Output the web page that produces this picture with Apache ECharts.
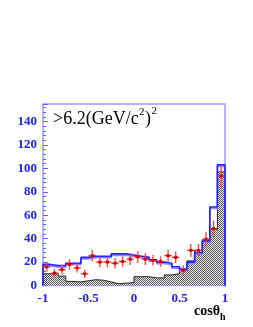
<!DOCTYPE html>
<html><head><meta charset="utf-8">
<script src="https://cdn.jsdelivr.net/npm/echarts@6/dist/echarts.min.js"></script>
<style>html,body{margin:0;padding:0;background:#fff}#c{width:253px;height:327px}</style>
</head><body><div id="c"></div>
<script>
// 24 bins in cos(theta_h) from -1 to 1
var nBins = 24, xMin = -1, xMax = 1;
var xTicks = [-1, -0.5, 0, 0.5, 1];
var yTicks = [0, 20, 40, 60, 80, 100, 120, 140];
// blue histogram (total)
var blueVals = [18, 17, 17, 19, 19, 24, 25, 25, 25, 27, 27, 26, 25, 24, 22, 20, 19, 16, 14, 20, 28, 38, 67, 103];
// hatched histogram (background)
var darkVals = [10, 10.5, 8, 3.5, 3, 4, 5, 4.5, 3, 1.5, 2, 2.5, 7.5, 7.5, 6.5, 6.5, 9, 10, 13, 21, 30, 39, 48, 97];
// red data points and errors
var dataVals = [16, 10.5, 13.5, 18, 15, 10, 25.5, 20, 20, 19, 20.5, 22.5, 24.5, 22.5, 21.5, 20.5, 25.5, 24, 13, 30, 30, 39.5, 48.5, 93.5];
var dataErr = [4, 3.5, 4, 4.5, 4, 3.5, 5, 4.5, 4.5, 4.5, 4.5, 5, 5, 5, 4.5, 4.5, 5, 5, 4, 5.5, 5.5, 6.5, 7, 9.5];

var bw = (xMax - xMin) / nBins;
function stepData(vals) {
  var d = [[xMin, 0]];
  for (var i = 0; i < vals.length; i++) d.push([xMin + i * bw, vals[i]]);
  d.push([xMax, vals[vals.length - 1]]);
  d.push([xMax, 0]);
  return d;
}
var pts = dataVals.map(function (v, i) { return [xMin + (i + 0.5) * bw, v, dataErr[i]]; });

var pc = document.createElement('canvas');
pc.width = 2; pc.height = 2;
var pctx = pc.getContext('2d');
pctx.fillStyle = '#ececec'; pctx.fillRect(0, 0, 2, 2);
pctx.fillStyle = '#585858'; pctx.fillRect(0, 0, 1, 1); pctx.fillRect(1, 1, 1, 1);

// text measuring for super/subscripts
var mctx = document.createElement('canvas').getContext('2d');
function tw(t, font) { mctx.font = font; return mctx.measureText(t).width; }
var fMain = '18px "Liberation Serif"', fSup = '11px "Liberation Serif"';
var fX = 'bold 14px "Liberation Serif"', fSub = 'bold 10px "Liberation Serif"';
var tx = 53, ty = 110;
var p1 = '>6.2(GeV/c', p2 = ')';
var w1 = tw(p1, fMain), ws = tw('2', fSup), w2 = tw(p2, fMain);
var xx = 194, xy = 304, xw = tw('cosθ', fX);
function txt(t, x, y, font) {
  return {type: 'text', x: x, y: y, z: 10, silent: true, style: {text: t, font: font, fill: '#000', verticalAlign: 'top'}};
}

var chart = echarts.init(document.getElementById('c'), null, {renderer: 'canvas'});
var blue = '#2020ff';
chart.setOption({
  animation: false,
  grid: {left: 43, right: 28, top: 104, bottom: 41.5, show: true, borderColor: '#9a9aff', borderWidth: 1.5, backgroundColor: 'transparent'},
  xAxis: {
    type: 'value', min: xMin, max: xMax, interval: 0.5,
    axisLine: {show: false, onZero: false},
    axisTick: {show: true, inside: true, length: 5, lineStyle: {color: '#6060ff'}},
    minorTick: {show: false},
    splitLine: {show: false},
    axisLabel: {color: blue, fontFamily: 'Liberation Serif', fontWeight: 'bold', fontSize: 13, margin: 7,
      formatter: function (v) { return xTicks.indexOf(v) >= 0 ? String(v) : ''; }}
  },
  yAxis: {
    type: 'value', min: 0, max: 155, interval: 20,
    axisLine: {show: false, onZero: false},
    axisTick: {show: true, inside: true, length: 5, lineStyle: {color: '#6060ff'}},
    minorTick: {show: true, splitNumber: 5, length: 3, lineStyle: {color: '#6060ff'}},
    splitLine: {show: false},
    axisLabel: {color: blue, fontFamily: 'Liberation Serif', fontWeight: 'bold', fontSize: 13, margin: 6,
      formatter: function (v) { return yTicks.indexOf(v) >= 0 ? String(v) : ''; }}
  },
  series: [
    {type: 'line', data: stepData(darkVals), step: 'end', symbol: 'none', z: 2,
      lineStyle: {color: '#222', width: 1},
      areaStyle: {color: {image: pc, repeat: 'repeat'}, opacity: 1}},
    {type: 'line', data: stepData(blueVals), step: 'end', symbol: 'none', z: 3,
      lineStyle: {color: blue, width: 1.6, shadowColor: '#8c8cff', shadowOffsetY: 1.5, shadowBlur: 0}},
    {type: 'custom', z: 5, data: pts,
      renderItem: function (params, api) {
        var x = api.value(0), y = api.value(1), e = api.value(2);
        var c = api.coord([x, y]);
        var t = api.coord([x, y + e]);
        var b = api.coord([x, Math.max(0, y - e)]);
        var l = api.coord([x - 0.04, y]);
        var r = api.coord([x + 0.04, y]);
        return {type: 'group', children: [
          {type: 'line', shape: {x1: c[0], y1: t[1], x2: c[0], y2: b[1]}, style: {stroke: '#ff4a4a', lineWidth: 1.4}},
          {type: 'line', shape: {x1: l[0], y1: c[1], x2: r[0], y2: c[1]}, style: {stroke: '#ff2020', lineWidth: 1.3}},
          {type: 'rect', shape: {x: c[0] - 1.5, y: c[1] - 1.5, width: 3, height: 3}, style: {fill: '#d00000'}}
        ]};
      }}
  ],
  graphic: [
    txt(p1, tx, ty, fMain),
    txt('2', tx + w1 + 0.5, ty - 3, fSup),
    txt(p2, tx + w1 + ws + 1, ty, fMain),
    txt('2', tx + w1 + ws + 1 + w2 + 0.5, ty - 4, fSup),
    txt('cosθ', xx, xy, fX),
    txt('h', xx + xw, xy + 8, fSub)
  ]
});
</script></body></html>
